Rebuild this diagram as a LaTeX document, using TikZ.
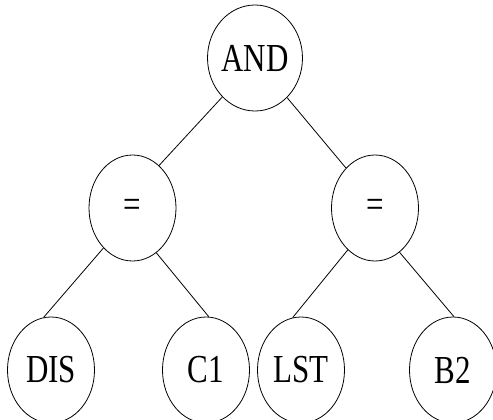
\documentclass[tikz,border=0pt]{standalone}
\usepackage{fontspec}
\usepackage{graphicx}
\setmainfont{Liberation Serif}
\usetikzlibrary{shapes.geometric}
\begin{document}
\begin{tikzpicture}[x=1pt,y=-1pt,
  tn/.style={draw, ellipse, minimum width=87pt, minimum height=106pt, inner sep=0pt, line width=0.8pt, font=\fontsize{31}{31}\selectfont},
  ed/.style={line width=0.8pt}]
\useasboundingbox (0,0) rectangle (493,420);
\node[tn] (and) at (255,58) {\scalebox{1}[1.28]{AND}};
\node[tn] (eqL) at (132.5,208) {\scalebox{1}[1.28]{=}};
\node[tn] (eqR) at (375,208) {\scalebox{1}[1.28]{=}};
\node[tn] (dis) at (51,370) {\scalebox{1}[1.28]{DIS}};
\node[tn] (c1) at (206,370) {\scalebox{1}[1.28]{C1}};
\node[tn] (lst) at (301,370) {\scalebox{1}[1.28]{LST}};
\node[tn] (b2) at (453,370) {\scalebox{1}[1.28]{B2}};
\draw[ed] (and.230) -- (eqL.58);
\draw[ed] (and.309) -- (eqR.126);
\draw[ed] (eqL.234) -- (dis.98);
\draw[ed] (eqL.298) -- (c1.87);
\draw[ed] (eqR.237) -- (lst.99);
\draw[ed] (eqR.299) -- (b2.89);
\end{tikzpicture}
\end{document}
